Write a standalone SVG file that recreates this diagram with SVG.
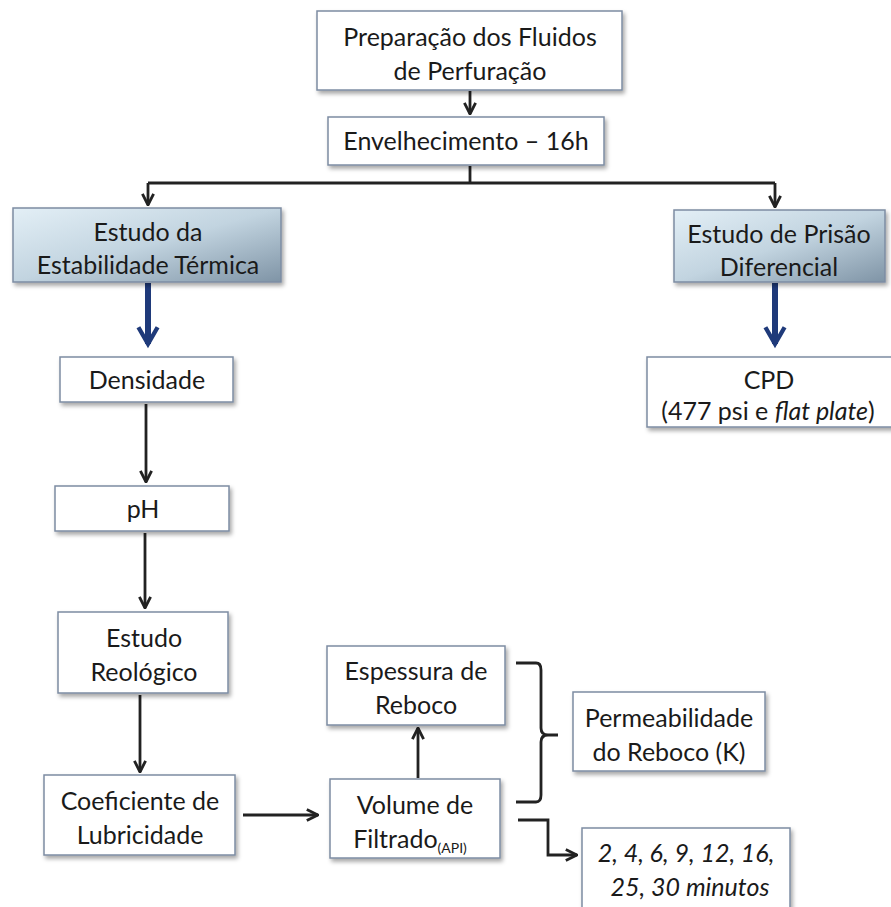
<svg xmlns="http://www.w3.org/2000/svg" width="891" height="907" viewBox="0 0 891 907">
<defs>
<style>
.box{fill:#fff;stroke:#7d8ca3;stroke-width:1.5}
.gbox{fill:url(#g);stroke:#7d8ca3;stroke-width:1.5}
text{font-family:Lato,"Open Sans","Liberation Sans",sans-serif;font-size:25px;fill:#1a1a1a;text-anchor:middle}
.c{fill:none;stroke:#222;stroke-width:2.8}
.b{fill:none;stroke:#1f3a7a;stroke-width:6}
</style>
<linearGradient id="g" x1="0" y1="0" x2="1" y2="1">
<stop offset="0" stop-color="#e3eff6"/>
<stop offset="0.5" stop-color="#c2d4e0"/>
<stop offset="1" stop-color="#7f94a6"/>
</linearGradient>
<filter id="sh" x="-10%" y="-10%" width="130%" height="140%">
<feDropShadow dx="2" dy="3" stdDeviation="2" flood-color="#000" flood-opacity="0.35"/>
</filter>
<marker id="a" viewBox="0 0 10 10" refX="9" refY="5" markerWidth="5" markerHeight="5" orient="auto" markerUnits="strokeWidth">
<path d="M1,1 L9,5 L1,9" fill="none" stroke="#222" stroke-width="2"/>
</marker>
<marker id="ab" viewBox="0 0 10 10" refX="8" refY="5" markerWidth="4" markerHeight="4.5" orient="auto" markerUnits="strokeWidth">
<path d="M1,1 L8,5 L1,9" fill="none" stroke="#1f3a7a" stroke-width="1.8"/>
</marker>
</defs>

<g id="connectors">
<line class="c" x1="470" y1="91" x2="470" y2="114" marker-end="url(#a)"/>
<path class="c" d="M470,166 V183"/>
<path class="c" d="M148,183 H775"/>
<line class="c" x1="148" y1="183" x2="148" y2="205" marker-end="url(#a)"/>
<line class="c" x1="775" y1="183" x2="775" y2="207" marker-end="url(#a)"/>
<line class="b" x1="148" y1="283" x2="148" y2="344" marker-end="url(#ab)"/>
<line class="b" x1="775" y1="283" x2="775" y2="344" marker-end="url(#ab)"/>
<line class="c" x1="146" y1="404" x2="146" y2="482" marker-end="url(#a)"/>
<line class="c" x1="145" y1="533" x2="145" y2="608" marker-end="url(#a)"/>
<line class="c" x1="140" y1="695" x2="140" y2="772" marker-end="url(#a)"/>
<line class="c" x1="243" y1="815" x2="318" y2="815" marker-end="url(#a)"/>
<line class="c" x1="418" y1="778" x2="418" y2="728" marker-end="url(#a)"/>
<path class="c" d="M518,820 H548 V855 H577" marker-end="url(#a)"/>
<path class="c" d="M516,663 H536 Q541,663 541,670 V728 Q541,735 548,735 H558 M548,735 Q541,735 541,742 V795 Q541,802 536,802 H516"/>
</g>

<g id="n1"><rect class="box" filter="url(#sh)" x="317" y="11" width="305" height="79"/>
<text x="470" y="46">Preparação dos Fluidos</text><text x="470" y="80">de Perfuração</text></g>

<g id="n2"><rect class="box" filter="url(#sh)" x="328" y="117" width="276" height="48"/>
<text x="466" y="150">Envelhecimento – 16h</text></g>

<g id="n3"><rect class="gbox" filter="url(#sh)" x="13" y="208" width="268" height="74"/>
<text x="148" y="241">Estudo da</text><text x="148" y="274">Estabilidade Térmica</text></g>

<g id="n4"><rect class="gbox" filter="url(#sh)" x="674" y="210" width="211" height="72"/>
<text x="779" y="243">Estudo de Prisão</text><text x="779" y="276">Diferencial</text></g>

<g id="n5"><rect class="box" filter="url(#sh)" x="60" y="357" width="173" height="45"/>
<text x="147" y="389">Densidade</text></g>

<g id="n6"><rect class="box" filter="url(#sh)" x="55" y="486" width="174" height="45"/>
<text x="143" y="518">pH</text></g>

<g id="n7"><rect class="box" filter="url(#sh)" x="58" y="612" width="170" height="81"/>
<text x="144" y="647">Estudo</text><text x="144" y="681">Reológico</text></g>

<g id="n8"><rect class="box" filter="url(#sh)" x="44" y="775" width="191" height="80"/>
<text x="140" y="810">Coeficiente de</text><text x="140" y="844">Lubricidade</text></g>

<g id="n9"><rect class="box" filter="url(#sh)" x="647" y="357" width="250" height="70"/>
<text x="769" y="389">CPD</text><text x="768" y="420">(477 psi e <tspan font-style="italic">flat plate</tspan>)</text></g>

<g id="n10"><rect class="box" filter="url(#sh)" x="327" y="646" width="178" height="79"/>
<text x="416" y="680">Espessura de</text><text x="416" y="714">Reboco</text></g>

<g id="n11"><rect class="box" filter="url(#sh)" x="330" y="779" width="170" height="79"/>
<text x="415" y="814">Volume de</text><text x="410" y="848">Filtrado<tspan font-size="14" dy="5">(API)</tspan></text></g>

<g id="n12"><rect class="box" filter="url(#sh)" x="573" y="692" width="192" height="79"/>
<text x="669" y="727">Permeabilidade</text><text x="669" y="761">do Reboco (K)</text></g>

<g id="n13"><rect class="box" filter="url(#sh)" x="582" y="828" width="208" height="84"/>
<text x="686" y="862" font-style="italic">2, 4, 6, 9, 12, 16,</text><text x="690" y="896" font-style="italic">25, 30 minutos</text></g>
</svg>
